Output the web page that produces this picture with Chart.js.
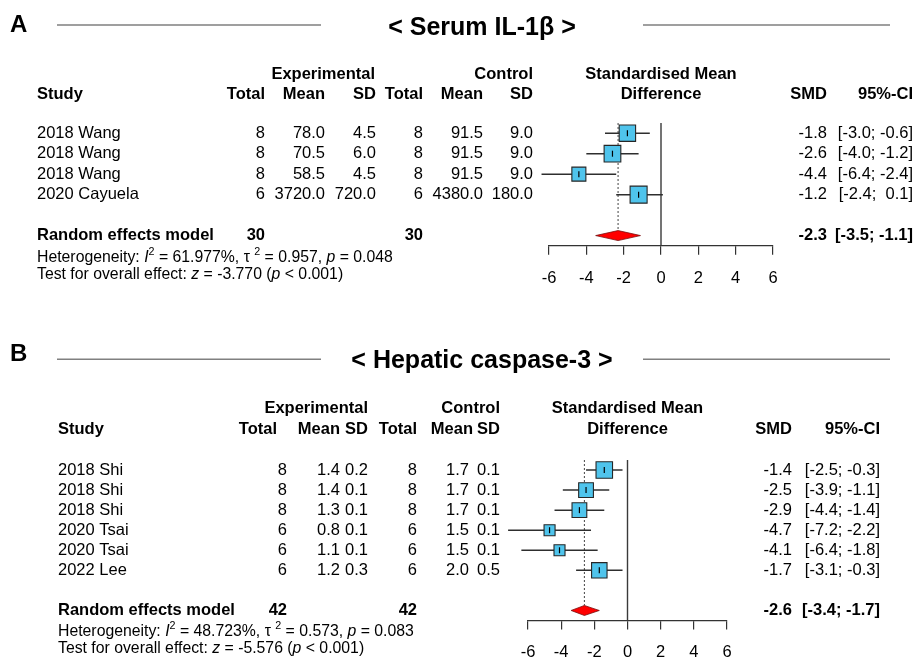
<!DOCTYPE html>
<html>
<head>
<meta charset="utf-8">
<script src="https://cdn.jsdelivr.net/npm/chart.js@4.4.1/dist/chart.umd.min.js"></script>
<style>
  html, body { margin: 0; padding: 0; background: #fff; overflow: hidden; }
  #wrap { position: relative; width: 917px; height: 659px; overflow: hidden; }
  #wrap canvas { position: absolute; left: 0; }
</style>
</head>
<body>
<div id="wrap">
  <canvas id="chartA" width="917" height="330" style="top:0px"></canvas>
  <canvas id="chartB" width="917" height="360" style="top:330px"></canvas>
</div>
<script>
// ---- Panel A: Serum IL-1β ----
const studiesA   = ["2018 Wang", "2018 Wang", "2018 Wang", "2020 Cayuela"];
const expTotalA  = [8, 8, 8, 6];
const expMeanA   = [78.0, 70.5, 58.5, 3720.0];
const expSdA     = [4.5, 6.0, 4.5, 720.0];
const ctrlTotalA = [8, 8, 8, 6];
const ctrlMeanA  = [91.5, 91.5, 91.5, 4380.0];
const ctrlSdA    = [9.0, 9.0, 9.0, 180.0];
const smdA       = [-1.8, -2.6, -4.4, -1.2];
const ciLowA     = [-3.0, -4.0, -6.4, -2.4];
const ciHighA    = [-0.6, -1.2, -2.4, 0.1];
const weightA    = [26, 27, 19, 28];
const pooledA    = [-2.3, -3.5, -1.1];        // SMD, lower, upper
const hetA       = [61.977, 0.957, 0.048];    // I2 %, tau2, p
const zA         = -3.770;

// ---- Panel B: Hepatic caspase-3 ----
const studiesB   = ["2018 Shi", "2018 Shi", "2018 Shi", "2020 Tsai", "2020 Tsai", "2022 Lee"];
const expTotalB  = [8, 8, 8, 6, 6, 6];
const expMeanB   = [1.4, 1.4, 1.3, 0.8, 1.1, 1.2];
const expSdB     = [0.2, 0.1, 0.1, 0.1, 0.1, 0.3];
const ctrlTotalB = [8, 8, 8, 6, 6, 6];
const ctrlMeanB  = [1.7, 1.7, 1.7, 1.5, 1.5, 2.0];
const ctrlSdB    = [0.1, 0.1, 0.1, 0.1, 0.1, 0.5];
const smdB       = [-1.4, -2.5, -2.9, -4.7, -4.1, -1.7];
const ciLowB     = [-2.5, -3.9, -4.4, -7.2, -6.4, -3.1];
const ciHighB    = [-0.3, -1.1, -1.4, -2.2, -1.8, -0.3];
const weightB    = [22.9, 18.3, 18.3, 10.2, 10.2, 20.1];
const pooledB    = [-2.6, -3.4, -1.7];
const hetB       = [48.723, 0.573, 0.083];
const zB         = -5.576;

const xTicks = [-6, -4, -2, 0, 2, 4, 6];

const FONT = '"Liberation Sans", Arial, Helvetica, sans-serif';
const SIZE = 16.5;

const fmt1 = v => v.toFixed(1);
const ciText = (lo, hi) => "[" + fmt1(lo) + "; " + (hi >= 0 ? " " : "") + fmt1(hi) + "]";

function drawRich(ctx, parts, x, y, size) {
  ctx.textAlign = "left";
  ctx.textBaseline = "middle";
  let cx = x;
  parts.forEach(([s, kind]) => {
    let f = size, dy = 0, style = "";
    if (kind === "i") style = "italic ";
    if (kind === "sup") { f = size * 0.68; dy = -size * 0.33; }
    ctx.font = style + f + "px " + FONT;
    ctx.fillText(s, cx, y + dy);
    cx += ctx.measureText(s).width;
  });
}

function makeTextPlugin(d, L) {
  return {
    id: "forestText",
    afterDraw(chart) {
      const ctx = chart.ctx;
      const xs = chart.scales.x, ys = chart.scales.y;
      const o = L.offsetY;
      const zeroX = xs.getPixelForValue(0);
      const n = d.studies.length;
      const reg = SIZE + "px " + FONT, bold = "bold " + SIZE + "px " + FONT;
      const put = (s, x, y, align, font) => {
        ctx.font = font; ctx.textAlign = align; ctx.textBaseline = "middle";
        ctx.fillText(s, x, y);
      };
      ctx.save();
      ctx.fillStyle = "#000";

      // panel letter, title and the rules around it
      put(L.letter, 10, L.letterY - o, "left", "bold 24px " + FONT);
      put(L.title, 482, L.titleY - o, "center", "bold 25px " + FONT);
      ctx.strokeStyle = "#808080";
      ctx.lineWidth = 1.5;
      ctx.beginPath();
      ctx.moveTo(57, L.ruleY - o); ctx.lineTo(321, L.ruleY - o);
      ctx.moveTo(643, L.ruleY - o); ctx.lineTo(890, L.ruleY - o);
      ctx.stroke();

      // column headers
      const c = L.cols;
      put("Experimental", c.expHead, L.head1 - o, "right", bold);
      put("Control", c.ctrlSd, L.head1 - o, "right", bold);
      put("Standardised Mean", zeroX, L.head1 - o, "center", bold);
      put("Study", c.study, L.head2 - o, "left", bold);
      put("Total", c.expTotalHead, L.head2 - o, "right", bold);
      put("Mean", c.expMean, L.head2 - o, "right", bold);
      put("SD", c.expSd, L.head2 - o, "right", bold);
      put("Total", c.ctrlTotal, L.head2 - o, "right", bold);
      put("Mean", c.ctrlMeanHead, L.head2 - o, "right", bold);
      put("SD", c.ctrlSd, L.head2 - o, "right", bold);
      put("Difference", zeroX, L.head2 - o, "center", bold);
      put("SMD", c.smd, L.head2 - o, "right", bold);
      put("95%-CI", c.ci, L.head2 - o, "right", bold);

      // study rows
      d.studies.forEach((s, i) => {
        const y = ys.getPixelForValue(i);
        put(s, c.study, y, "left", reg);
        put(String(d.expTotal[i]), c.expTotal, y, "right", reg);
        put(fmt1(d.expMean[i]), c.expMean, y, "right", reg);
        put(fmt1(d.expSd[i]), c.expSd, y, "right", reg);
        put(String(d.ctrlTotal[i]), c.ctrlTotal, y, "right", reg);
        put(fmt1(d.ctrlMean[i]), c.ctrlMean, y, "right", reg);
        put(fmt1(d.ctrlSd[i]), c.ctrlSd, y, "right", reg);
        put(fmt1(d.smd[i]), c.smd, y, "right", reg);
        put(ciText(d.lo[i], d.hi[i]), c.ci, y, "right", reg);
      });

      // pooled row
      const ys2 = ys.getPixelForValue(n + 1);
      const sumE = d.expTotal.reduce((a, b) => a + b, 0);
      const sumC = d.ctrlTotal.reduce((a, b) => a + b, 0);
      put("Random effects model", c.study, ys2, "left", bold);
      put(String(sumE), c.expTotal, ys2, "right", bold);
      put(String(sumC), c.ctrlTotal, ys2, "right", bold);
      put(fmt1(d.pooled[0]), c.smd, ys2, "right", bold);
      put(ciText(d.pooled[1], d.pooled[2]), c.ci, ys2, "right", bold);

      // diamond for the pooled estimate
      const dx0 = xs.getPixelForValue(d.pooled[1]);
      const dxm = xs.getPixelForValue(d.pooled[0]);
      const dx1 = xs.getPixelForValue(d.pooled[2]);
      ctx.beginPath();
      ctx.moveTo(dx0, ys2); ctx.lineTo(dxm, ys2 - 5);
      ctx.lineTo(dx1, ys2); ctx.lineTo(dxm, ys2 + 5);
      ctx.closePath();
      ctx.fillStyle = "#ff0000"; ctx.fill();
      ctx.strokeStyle = "#7a1010"; ctx.lineWidth = 0.8; ctx.stroke();
      ctx.fillStyle = "#000";

      // heterogeneity and overall effect
      const hs = 15.8;
      drawRich(ctx, [
        ["Heterogeneity: ", "n"], ["I", "i"], ["2", "sup"],
        [" = " + d.het[0].toFixed(3) + "%, τ ", "n"], ["2", "sup"],
        [" = " + d.het[1].toFixed(3) + ", ", "n"], ["p", "i"],
        [" = " + d.het[2].toFixed(3), "n"]
      ], c.study, L.hetY - o, hs);
      drawRich(ctx, [
        ["Test for overall effect: ", "n"], ["z", "i"],
        [" = " + d.z.toFixed(3) + " (", "n"], ["p", "i"], [" < 0.001)", "n"]
      ], c.study, L.testY - o, hs);
      ctx.restore();
    }
  };
}

function buildPanel(canvasId, d, L) {
  const n = d.studies.length;
  const sumRow = n + 1;
  const maxW = Math.max(...d.weight);
  const pts = d.smd.map((v, i) => ({ x: v, y: i }));
  const boxRadius = d.weight.map(w => (L.box * Math.sqrt(w / maxW)) / (2 * Math.SQRT1_2));

  const datasets = [
    { data: pts, pointStyle: "line", pointRotation: 90, pointRadius: 3,
      pointBorderColor: "#000", pointBorderWidth: 1.2, order: 0, clip: false },
    { data: pts, pointStyle: "rect", pointRadius: boxRadius,
      pointBackgroundColor: "#4fc4ec", pointBorderColor: "#262626", pointBorderWidth: 1.1,
      order: 1, clip: false }
  ];
  d.lo.forEach((lo, i) => {
    datasets.push({ data: [{ x: lo, y: i }, { x: d.hi[i], y: i }], showLine: true,
      pointRadius: 0, borderColor: "#2e2e2e", borderWidth: 1.5, order: 2, clip: false });
  });
  datasets.push({ data: [{ x: 0, y: -0.5 }, { x: 0, y: sumRow + 0.5 }], showLine: true,
    pointRadius: 0, borderColor: "#3a3a3a", borderWidth: 1.4, order: 3, clip: false });
  datasets.push({ data: [{ x: d.pooled[0], y: -0.5 }, { x: d.pooled[0], y: sumRow - 0.25 }],
    showLine: true, pointRadius: 0, borderColor: "#444", borderWidth: 1,
    borderDash: [2, 2], order: 3, clip: false });

  return new Chart(document.getElementById(canvasId), {
    type: "scatter",
    data: { datasets },
    options: {
      responsive: false,
      animation: false,
      events: [],
      layout: { padding: { left: L.left, right: 917 - L.right, top: L.top, bottom: L.bottom } },
      plugins: { legend: { display: false }, tooltip: { enabled: false } },
      scales: {
        x: {
          type: "linear", min: -6, max: 6,
          afterBuildTicks: s => { s.ticks = xTicks.map(v => ({ value: v })); },
          ticks: { color: "#000", padding: 13.5, maxRotation: 0, autoSkip: false,
                   font: { family: FONT, size: SIZE } },
          grid: { drawOnChartArea: false, drawTicks: true, tickLength: 9, color: "#333", lineWidth: 1.2 },
          border: { display: true, color: "#333", width: 1.2 }
        },
        y: { type: "linear", reverse: true, min: -0.5, max: sumRow + 0.5, display: false }
      }
    },
    plugins: [makeTextPlugin(d, L)]
  });
}

buildPanel("chartA", {
  studies: studiesA, expTotal: expTotalA, expMean: expMeanA, expSd: expSdA,
  ctrlTotal: ctrlTotalA, ctrlMean: ctrlMeanA, ctrlSd: ctrlSdA,
  smd: smdA, lo: ciLowA, hi: ciHighA, weight: weightA,
  pooled: pooledA, het: hetA, z: zA
}, {
  offsetY: 0, letter: "A", title: "< Serum IL-1β >",
  letterY: 25, titleY: 28, ruleY: 25, head1: 74, head2: 94, hetY: 257.3, testY: 275,
  left: 549, right: 773, top: 123, bottom: 28.4, box: 17,
  cols: { study: 37, expTotal: 265, expTotalHead: 265, expMean: 325, expSd: 376, expHead: 375,
          ctrlTotal: 423, ctrlMean: 483, ctrlMeanHead: 483, ctrlSd: 533, smd: 827, ci: 913 }
});

buildPanel("chartB", {
  studies: studiesB, expTotal: expTotalB, expMean: expMeanB, expSd: expSdB,
  ctrlTotal: ctrlTotalB, ctrlMean: ctrlMeanB, ctrlSd: ctrlSdB,
  smd: smdB, lo: ciLowB, hi: ciHighB, weight: weightB,
  pooled: pooledB, het: hetB, z: zB
}, {
  offsetY: 330, letter: "B", title: "< Hepatic caspase-3 >",
  letterY: 354, titleY: 361, ruleY: 359.3, head1: 408.5, head2: 429, hetY: 631.7, testY: 649,
  left: 528, right: 727, top: 130, bottom: 13.7, box: 16.5,
  cols: { study: 58, expTotal: 287, expTotalHead: 277, expMean: 340, expSd: 368, expHead: 368,
          ctrlTotal: 417, ctrlMean: 469, ctrlMeanHead: 473, ctrlSd: 500, smd: 792, ci: 880 }
});
</script>
</body>
</html>
